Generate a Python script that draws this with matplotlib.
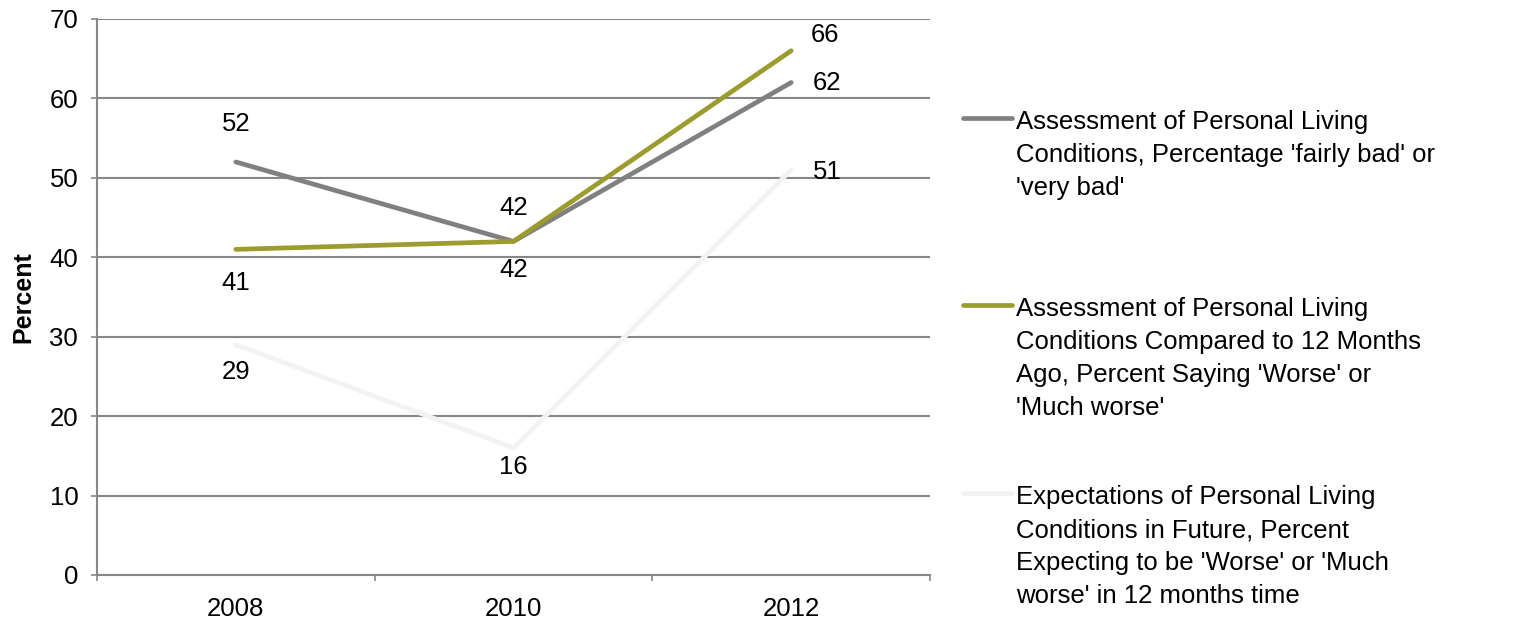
import matplotlib.pyplot as plt
from matplotlib.lines import Line2D
from matplotlib.ticker import FixedLocator

plt.rcParams['font.family'] = ['Liberation Sans', 'DejaVu Sans']

# data
years = ["2008", "2010", "2012"]
living_bad = [52, 42, 62]
compared_worse = [41, 42, 66]
future_worse = [29, 16, 51]

series_labels = [
    "Assessment of Personal Living\nConditions, Percentage 'fairly bad' or\n'very bad'",
    "Assessment of Personal Living\nConditions Compared to 12 Months\nAgo, Percent Saying 'Worse' or\n'Much worse'",
    "Expectations of Personal Living\nConditions in Future, Percent\nExpecting to be 'Worse' or 'Much\nworse' in 12 months time",
]
colors = ["#808080", "#9c9b2e", "#f2f2f2"]

# label offsets in pixels (dx, dy) for each point
label_offsets = [
    [(0, 38), (0, 33), (22, 0)],
    [(0, -34), (0, -29), (20, 16)],
    [(0, -27), (0, -19), (22, -2)],
]

fig = plt.figure(figsize=(15.19, 6.19), dpi=100)
ax = fig.add_axes([97 / 1519, 1 - 575 / 619, 833 / 1519, 556 / 619])

x = list(range(len(years)))
all_series = [living_bad, compared_worse, future_worse]
for vals, col, offs in zip(all_series, colors, label_offsets):
    ax.plot(x, vals, color=col, linewidth=3.4, solid_capstyle='round', zorder=3)
    for xi, v, (dx, dy) in zip(x, vals, offs):
        ha = 'left' if dx > 0 else 'center'
        ax.annotate(str(v), (xi, v), xytext=(dx, dy), textcoords='offset pixels',
                    ha=ha, va='center', fontsize=18.5, color='black', zorder=4)

ax.set_xlim(-0.5, len(years) - 0.5)
ax.set_ylim(0, 70)
ax.set_yticks(range(0, 71, 10))
ax.set_xticks(x)
ax.set_xticklabels(years)
ax.xaxis.set_minor_locator(FixedLocator([i - 0.5 for i in range(len(years) + 1)]))

ax.grid(axis='y', color='#878787', linewidth=1.5, zorder=0)
ax.set_axisbelow(True)
for side in ['top', 'right']:
    ax.spines[side].set_visible(False)
for side in ['left', 'bottom']:
    ax.spines[side].set_color('#878787')
    ax.spines[side].set_linewidth(1.5)

ax.tick_params(axis='y', length=4.5, width=1.2, color='#878787', pad=9, labelsize=18.5)
ax.tick_params(axis='x', which='major', length=0, pad=16, labelsize=18.5)
ax.tick_params(axis='x', which='minor', length=4.5, width=1.2, color='#878787')

ax.set_ylabel("Percent", fontsize=18, fontweight='bold', labelpad=10)

# legend, handle aligned to first text line like the original
entry_tops = [118, 305, 493]
for lab, col, yc in zip(series_labels, colors, entry_tops):
    yf = 1 - yc / 619
    fig.add_artist(Line2D([963 / 1519, 1012 / 1519], [yf, yf], color=col,
                          linewidth=3.4, solid_capstyle='round', transform=fig.transFigure))
    fig.text(1016 / 1519, 1 - (yc - 8) / 619, lab, ha='left', va='top',
             fontsize=18.5, linespacing=1.48)

fig.savefig("out.png", dpi=100)
